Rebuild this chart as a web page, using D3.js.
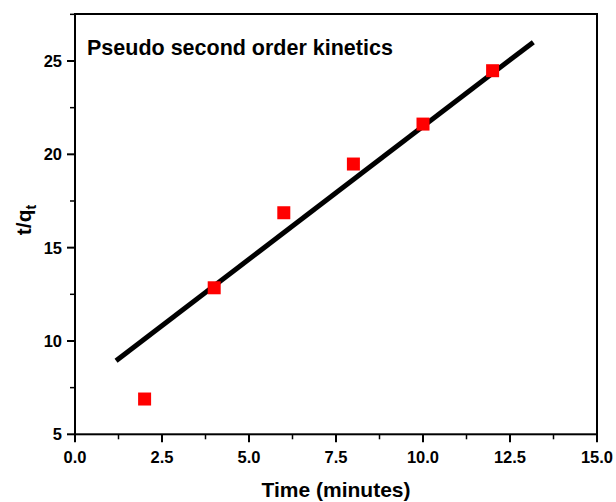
<!DOCTYPE html>
<html>
<head>
<meta charset="utf-8">
<script src="https://cdn.jsdelivr.net/npm/d3@7"></script>
<style>
  html, body { margin: 0; padding: 0; background: #fff; }
  svg { display: block; }
  text { font-family: "Liberation Sans", Arial, sans-serif; font-weight: bold; fill: #000; }
</style>
</head>
<body>
<svg id="chart" width="616" height="502"></svg>
<script>
// Measured t/q_t against contact time
const timeMinutes = [2, 4, 6, 8, 10, 12];
const tOverQt = [6.89, 12.85, 16.87, 19.48, 21.62, 24.48];

// Linear fit drawn across the data range
const fitX = [1.18, 13.17];
const fitY = [8.94, 26.01];

const xTicks = [0, 2.5, 5, 7.5, 10, 12.5, 15];
const yTicks = [5, 10, 15, 20, 25];

const svg = d3.select("#chart");
const plotLeft = 75, plotRight = 597, plotTop = 14, plotBottom = 434.3;

const x = d3.scaleLinear().domain([0, 15]).range([plotLeft, plotRight]);
const y = d3.scaleLinear().domain([5, 25]).range([plotBottom, 61]);
const yTopValue = y.invert(plotTop);

// frame
svg.append("rect")
  .attr("x", plotLeft).attr("y", plotTop)
  .attr("width", plotRight - plotLeft).attr("height", plotBottom - plotTop)
  .attr("fill", "none").attr("stroke", "#000").attr("stroke-width", 2);

// x axis: major and minor ticks
const xMinor = d3.range(1.25, 15, 2.5);
const xAxis = svg.append("g").attr("transform", `translate(0,${plotBottom})`);
xAxis.selectAll("line.maj").data(xTicks).join("line")
  .attr("x1", d => x(d)).attr("x2", d => x(d))
  .attr("y1", 0).attr("y2", 8)
  .attr("stroke", "#000").attr("stroke-width", 2);
xAxis.selectAll("line.min").data(xMinor).join("line")
  .attr("x1", d => x(d)).attr("x2", d => x(d))
  .attr("y1", 0).attr("y2", 5)
  .attr("stroke", "#000").attr("stroke-width", 1.5);
xAxis.selectAll("text").data(xTicks).join("text")
  .attr("x", d => x(d)).attr("y", 29)
  .attr("text-anchor", "middle")
  .attr("font-size", 16.5)
  .text(d => d3.format(".1f")(d));

// y axis: major and minor ticks
const yMinor = d3.range(7.5, yTopValue, 5);
const yAxis = svg.append("g").attr("transform", `translate(${plotLeft},0)`);
yAxis.selectAll("line.maj").data(yTicks).join("line")
  .attr("x1", -8).attr("x2", 0)
  .attr("y1", d => y(d)).attr("y2", d => y(d))
  .attr("stroke", "#000").attr("stroke-width", 2);
yAxis.selectAll("line.min").data(yMinor).join("line")
  .attr("x1", -5).attr("x2", 0)
  .attr("y1", d => y(d)).attr("y2", d => y(d))
  .attr("stroke", "#000").attr("stroke-width", 1.5);
yAxis.selectAll("text").data(yTicks).join("text")
  .attr("x", -13).attr("y", d => y(d))
  .attr("dy", "0.36em")
  .attr("text-anchor", "end")
  .attr("font-size", 16.5)
  .text(d => d);

// fitted line
svg.append("path")
  .datum(fitX.map((v, i) => [v, fitY[i]]))
  .attr("d", d3.line().x(d => x(d[0])).y(d => y(d[1])))
  .attr("fill", "none").attr("stroke", "#000").attr("stroke-width", 5);

// data points
const s = 13;
svg.selectAll("rect.pt").data(timeMinutes).join("rect")
  .attr("class", "pt")
  .attr("x", d => x(d) - s / 2)
  .attr("y", (d, i) => y(tOverQt[i]) - s / 2)
  .attr("width", s).attr("height", s)
  .attr("fill", "#ff0000");

// in-plot title
svg.append("text")
  .attr("x", 87).attr("y", 55)
  .attr("font-size", 21.5)
  .text("Pseudo second order kinetics");

// axis titles
svg.append("text")
  .attr("x", 336).attr("y", 497)
  .attr("text-anchor", "middle")
  .attr("font-size", 21)
  .text("Time (minutes)");

const yl = svg.append("text")
  .attr("transform", `translate(31,220) rotate(-90)`)
  .attr("text-anchor", "middle")
  .attr("font-size", 21);
yl.append("tspan").text("t/q");
yl.append("tspan").attr("font-size", 14).attr("dy", 5).text("t");
</script>
</body>
</html>
